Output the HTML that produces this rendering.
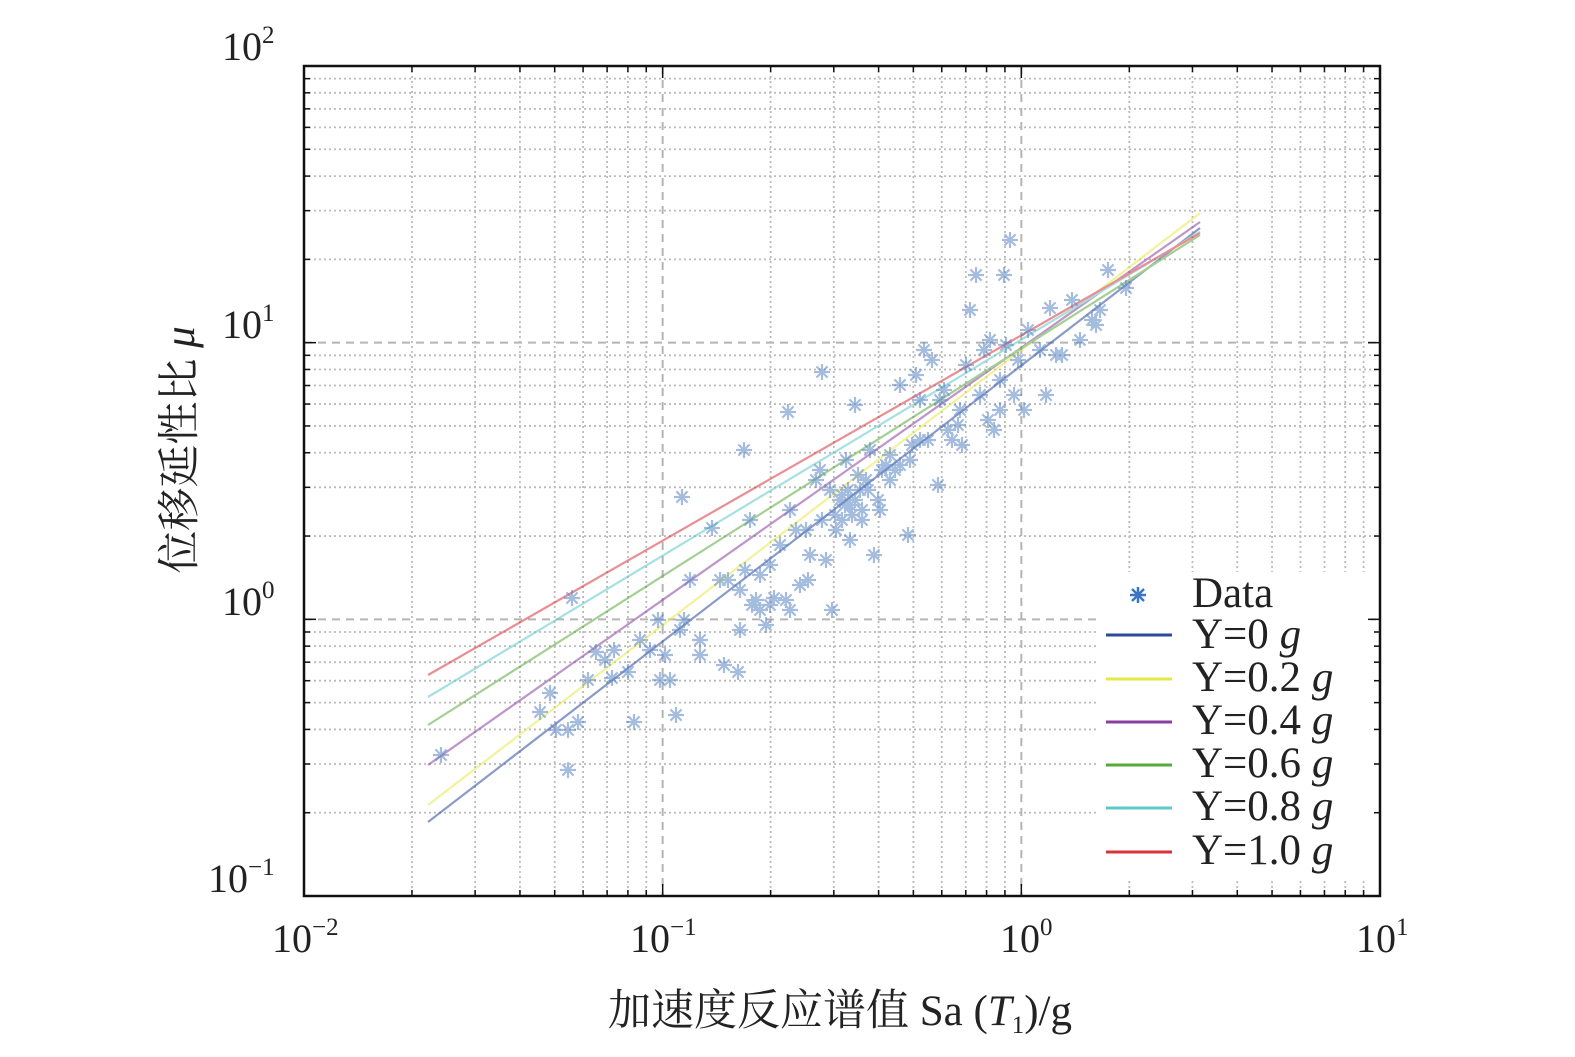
<!DOCTYPE html>
<html><head><meta charset="utf-8"><style>
html,body{margin:0;padding:0;background:#fff;width:1575px;height:1057px;overflow:hidden}
svg{display:block}
text{font-family:"Liberation Serif","Noto Serif CJK SC",serif;fill:#222}
</style></head><body>
<svg id="s" width="1575" height="1057" viewBox="0 0 1575 1057" xmlns="http://www.w3.org/2000/svg">
<rect width="1575" height="1057" fill="#fff"/>
<g id="grid"></g>
<g id="lines" fill="none" stroke-width="2.2" opacity="0.55">
<line x1="428" y1="822" x2="1200" y2="228" stroke="#2b4a9a"/>
<line x1="428" y1="805" x2="1200" y2="213" stroke="#e6e84a"/>
<line x1="428" y1="765" x2="1200" y2="222" stroke="#8a3fa0"/>
<line x1="428" y1="725" x2="1200" y2="235" stroke="#5aa83a"/>
<line x1="428" y1="697" x2="1200" y2="232" stroke="#5ec8c8"/>
<line x1="428" y1="675" x2="1200" y2="233" stroke="#d8333a"/>
</g>
<g id="pts" stroke="#5b86c4" stroke-width="2.2" opacity="0.55"></g>
<rect x="1096" y="572" width="275" height="308" fill="#fff"/>
<rect x="304" y="66" width="1076" height="830" fill="none" stroke="#111" stroke-width="2.5"/>
<g id="ticks" stroke="#111" stroke-width="1.5"></g>
<g stroke="#3a74c4" stroke-width="2.5"><line x1="1130" y1="595" x2="1146" y2="595"/><line x1="1138" y1="587" x2="1138" y2="603"/><line x1="1132" y1="589" x2="1144" y2="601"/><line x1="1144" y1="589" x2="1132" y2="601"/></g>
<g stroke-width="3">
<line x1="1106" y1="635" x2="1172" y2="635" stroke="#2b4a9a"/>
<line x1="1106" y1="679" x2="1172" y2="679" stroke="#e6e84a"/>
<line x1="1106" y1="722" x2="1172" y2="722" stroke="#8a3fa0"/>
<line x1="1106" y1="765" x2="1172" y2="765" stroke="#5aa83a"/>
<line x1="1106" y1="808" x2="1172" y2="808" stroke="#5ec8c8"/>
<line x1="1106" y1="852" x2="1172" y2="852" stroke="#d8333a"/>
</g>
<g font-size="43">
<text x="1192" y="607">Data</text>
<text x="1192" y="648">Y=0 <tspan font-style="italic">g</tspan></text>
<text x="1192" y="691">Y=0.2 <tspan font-style="italic">g</tspan></text>
<text x="1192" y="734">Y=0.4 <tspan font-style="italic">g</tspan></text>
<text x="1192" y="777">Y=0.6 <tspan font-style="italic">g</tspan></text>
<text x="1192" y="820">Y=0.8 <tspan font-style="italic">g</tspan></text>
<text x="1192" y="864">Y=1.0 <tspan font-style="italic">g</tspan></text>
</g>
<g font-size="40">
<text x="222" y="60">10<tspan font-size="25" dy="-17">2</tspan></text>
<text x="222" y="338">10<tspan font-size="25" dy="-17">1</tspan></text>
<text x="222" y="615">10<tspan font-size="25" dy="-17">0</tspan></text>
<text x="208" y="892">10<tspan font-size="25" dy="-17">−1</tspan></text>
<text x="272" y="952">10<tspan font-size="25" dy="-17">−2</tspan></text>
<text x="630" y="952">10<tspan font-size="25" dy="-17">−1</tspan></text>
<text x="1000" y="952">10<tspan font-size="25" dy="-17">0</tspan></text>
<text x="1356" y="952">10<tspan font-size="25" dy="-17">1</tspan></text>
</g>
<text x="840" y="1025" font-size="43" text-anchor="middle">加速度反应谱值 Sa (<tspan font-style="italic">T</tspan><tspan font-size="25" dy="8">1</tspan><tspan dy="-8">)/g</tspan></text>
<text transform="translate(194,450) rotate(-90)" font-size="43" text-anchor="middle">位移延性比 <tspan font-style="italic">μ</tspan></text>
</svg>
<script>
var NS="http://www.w3.org/2000/svg";
function el(p,t,a){var e=document.createElementNS(NS,t);for(var k in a)e.setAttribute(k,a[k]);p.appendChild(e);return e;}
var g=document.getElementById("grid"),tk=document.getElementById("ticks");
var X0=304,XD=358.67,Y0=896,YD=276.67;
for(var d=0;d<3;d++)for(var m=1;m<10;m++){
 var x=X0+(d+Math.log10(m))*XD;
 if(m==1){ if(d>0){el(g,"line",{x1:x,y1:66,x2:x,y2:896,stroke:"#b5b5b5","stroke-width":2,"stroke-dasharray":"8,6"});}
   el(tk,"line",{x1:x,y1:896,x2:x,y2:884});el(tk,"line",{x1:x,y1:66,x2:x,y2:78});}
 else {el(g,"line",{x1:x,y1:66,x2:x,y2:896,stroke:"#bbb","stroke-width":1.8,"stroke-dasharray":"2,3"});
   el(tk,"line",{x1:x,y1:896,x2:x,y2:890});el(tk,"line",{x1:x,y1:66,x2:x,y2:72});}
 var y=Y0-(d+Math.log10(m))*YD;
 if(m==1){ if(d>0){el(g,"line",{x1:304,y1:y,x2:1380,y2:y,stroke:"#b5b5b5","stroke-width":2,"stroke-dasharray":"8,6"});}
   el(tk,"line",{x1:304,y1:y,x2:316,y2:y});el(tk,"line",{x1:1380,y1:y,x2:1368,y2:y});}
 else {el(g,"line",{x1:304,y1:y,x2:1380,y2:y,stroke:"#bbb","stroke-width":1.8,"stroke-dasharray":"2,3"});
   el(tk,"line",{x1:304,y1:y,x2:310,y2:y});el(tk,"line",{x1:1380,y1:y,x2:1374,y2:y});}
}
var P=[[441,755],[572,598],[550,693],[540,712],[556,730],[568,730],[578,722],[568,770],[588,680],[612,678],[614,650],[634,722],[640,640],[650,650],[658,620],[665,655],[670,680],[676,715],[680,630],[684,620],[690,580],[682,497],[700,640],[712,528],[720,580],[724,665],[738,672],[740,630],[744,450],[745,570],[750,520],[752,605],[756,600],[760,610],[766,625],[770,565],[774,598],[780,545],[786,600],[788,412],[790,510],[796,530],[800,585],[806,530],[810,555],[816,480],[820,470],[822,372],[826,560],[830,490],[832,610],[836,530],[840,500],[842,520],[846,460],[850,505],[852,515],[855,405],[858,475],[860,490],[862,520],[866,480],[870,450],[874,555],[878,500],[882,470],[886,465],[890,455],[895,470],[900,385],[908,535],[912,445],[916,375],[920,440],[924,350],[928,440],[932,360],[938,485],[944,390],[948,430],[952,440],[958,425],[962,445],[966,365],[970,310],[976,275],[980,395],[984,350],[988,420],[990,340],[994,430],[1000,380],[1004,275],[1006,345],[1010,240],[1014,395],[1018,360],[1024,410],[1028,330],[1046,395],[1050,308],[1056,355],[1062,355],[1072,300],[1080,340],[1092,320],[1096,325],[1108,270],[1126,288],[1000,410],[960,410],[940,400],[910,460],[900,465],[880,510],[868,490],[848,490],[822,520],[808,580],[790,610],[770,605],[760,575],[740,590],[728,580],[700,655],[660,680],[628,672],[605,660],[596,652],[850,540],[890,480],[920,400],[1040,350],[1100,310],[845,505],[855,500],[862,510],[835,515],[842,495]];
var pg=document.getElementById("pts"),r=8;
P.forEach(function(p){var x=p[0],y=p[1];
 el(pg,"line",{x1:x-r,y1:y,x2:x+r,y2:y});el(pg,"line",{x1:x,y1:y-r,x2:x,y2:y+r});
 el(pg,"line",{x1:x-r*.7,y1:y-r*.7,x2:x+r*.7,y2:y+r*.7});el(pg,"line",{x1:x+r*.7,y1:y-r*.7,x2:x-r*.7,y2:y+r*.7});});
</script>
</body></html>
